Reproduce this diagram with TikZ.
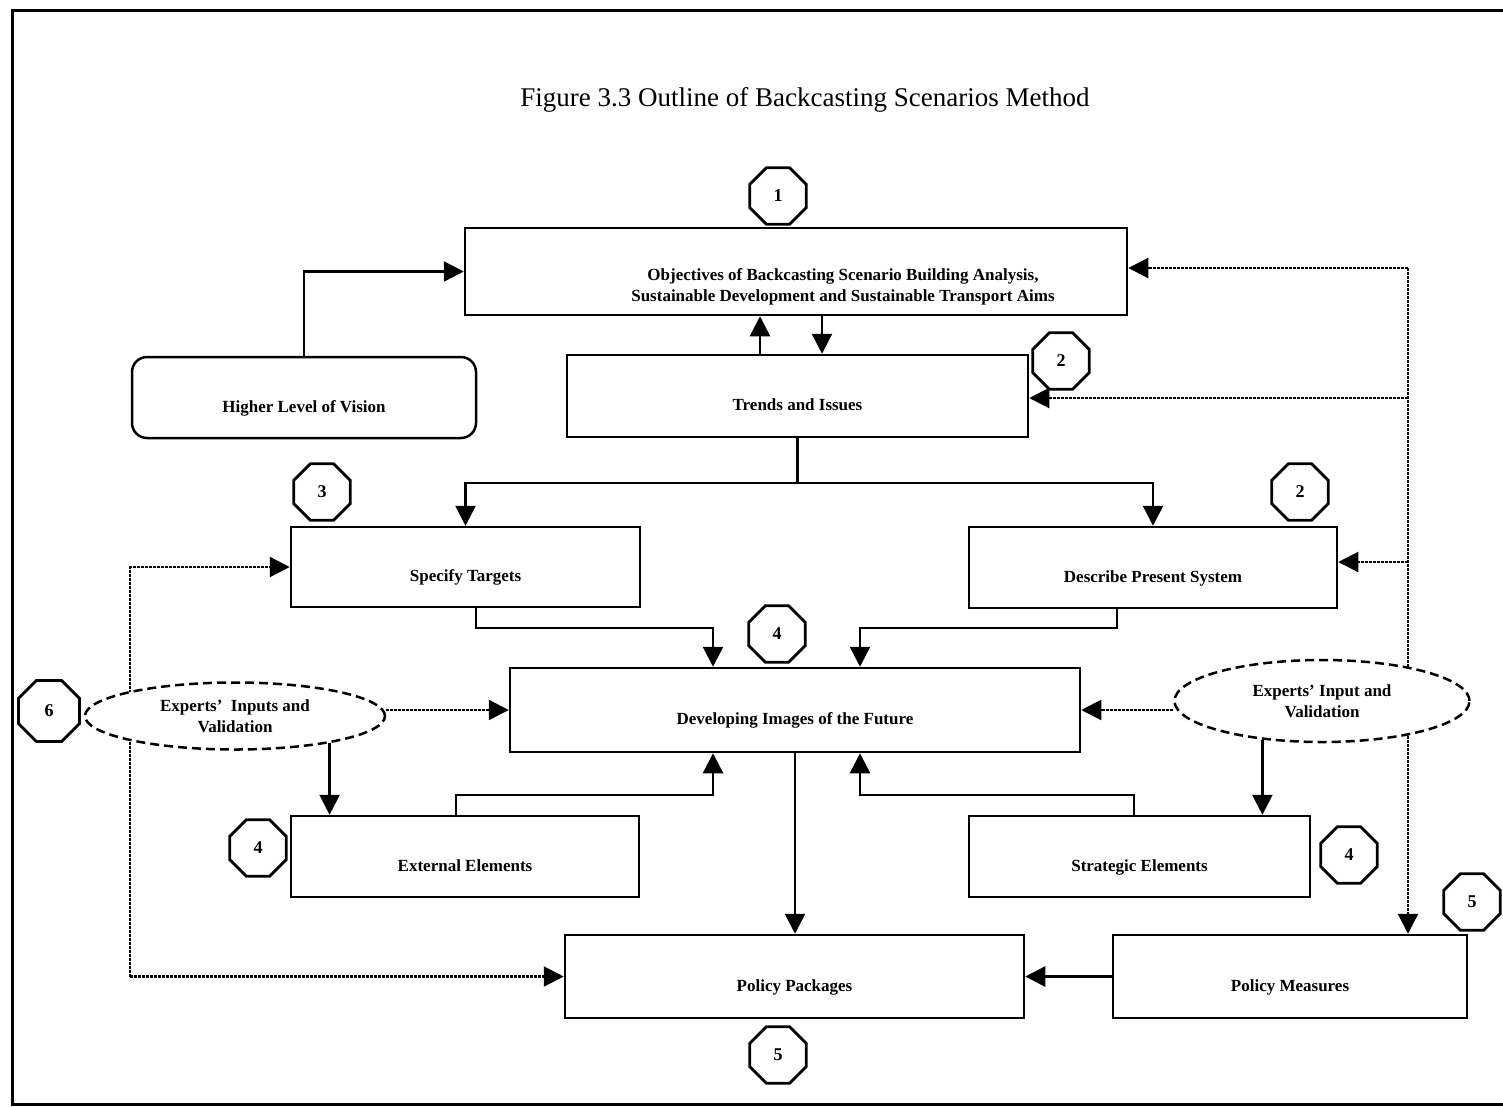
\documentclass[tikz,border=0pt]{standalone}
\usepackage{fontspec}
\setmainfont{Liberation Serif}
\usetikzlibrary{arrows.meta,shapes.geometric}
\begin{document}
\begin{tikzpicture}[x=1pt,y=-1pt,
  lbl/.style={font=\bfseries\fontsize{17}{21}\selectfont},
  box/.style={draw, line width=2.5pt, inner sep=0pt, lbl, text height=33pt, text depth=4pt},
  plainbox/.style={draw, line width=2.5pt, inner sep=0pt},
  oct/.style={draw, regular polygon, regular polygon sides=8, minimum size=61pt, inner sep=0pt, line width=2.8pt, font=\bfseries\fontsize{18}{18}\selectfont},
  ell/.style={draw, ellipse, dash pattern=on 9pt off 5pt, line width=2.5pt, fill=white, inner sep=0pt, align=center, lbl},
  arr/.style={line width=2.5pt, -{Triangle[length=20pt,width=20pt]}},
  dotl/.style={line width=2.2pt, dash pattern=on 3pt off 1pt},
  dotarr/.style={dotl, -{Triangle[length=20pt,width=20pt]}}
]
\useasboundingbox (0,0) rectangle (1503,1106);
% frame
\draw[line width=3pt] (1503,10) -- (12,10) -- (12,1104) -- (1503,1104);
% title
\node[font=\fontsize{27}{30}\selectfont] (title) at (805,100) {Figure 3.3 Outline of Backcasting Scenarios Method};

% boxes
\node[plainbox, minimum width=662pt, minimum height=87pt] (obj) at (796,271.5) {};
\node[lbl, align=center] (objtext) at (843,287) {Objectives of Backcasting Scenario Building Analysis,\\Sustainable Development and Sustainable Transport Aims};
\node[box, rounded corners=15pt, minimum width=344pt, minimum height=81pt] (hlv) at (304,397.5) {Higher Level of Vision};
\node[box, minimum width=461pt, minimum height=82pt] (trends) at (797.5,396) {Trends and Issues};
\node[box, minimum width=349pt, minimum height=80pt] (spec) at (465.5,567) {Specify Targets};
\node[box, minimum width=368pt, minimum height=81pt] (desc) at (1153,567.5) {Describe Present System};
\node[box, minimum width=570pt, minimum height=84pt] (dev) at (795,710) {Developing Images of the Future};
\node[box, minimum width=348pt, minimum height=81pt] (ext) at (465,856.5) {External Elements};
\node[box, minimum width=341pt, minimum height=81pt] (strat) at (1139.5,856.5) {Strategic Elements};
\node[box, minimum width=459pt, minimum height=83pt] (pp) at (794.5,976.5) {Policy Packages};
\node[box, minimum width=354pt, minimum height=83pt] (pm) at (1290,976.5) {Policy Measures};

% octagons
\node[oct] (o1) at (778,196) {1};
\node[oct] (o2a) at (1061,361) {2};
\node[oct] (o2b) at (1300,492) {2};
\node[oct] (o3) at (322,492) {3};
\node[oct] (o4a) at (777,634) {4};
\node[oct, minimum size=66pt] (o6) at (49,711) {6};
\node[oct] (o4b) at (258,848) {4};
\node[oct] (o4c) at (1349,855) {4};
\node[oct] (o5a) at (1472,902) {5};
\node[oct] (o5b) at (778,1055) {5};

% helper coordinates
\coordinate (cA) at (760,0);
\coordinate (cB) at (822,0);
\coordinate (cC) at (476,0);
\coordinate (cD) at (713,0);
\coordinate (cE) at (860,0);
\coordinate (cF) at (1117,0);
\coordinate (cG) at (456,0);
\coordinate (cH) at (1134,0);
\coordinate (cR) at (1408,0);
\coordinate (cL) at (130,0);
\coordinate (r1) at (0,483);
\coordinate (r2) at (0,628);
\coordinate (r3) at (0,795);
\coordinate (rObj) at (0,268);
\coordinate (rTr) at (0,398);
\coordinate (rDs) at (0,562);

% dotted trunks (behind the ellipses)
\draw[dotarr] (cR |- rObj) -- (cR |- pm.north);
\draw[dotarr] (cR |- rObj) -- (rObj -| obj.east);
\draw[dotarr] (cR |- rTr) -- (rTr -| trends.east);
\draw[dotarr] (cR |- rDs) -- (rDs -| desc.east);
\draw[dotarr] (pp.west -| cL) |- (spec.west);
\draw[dotarr] (pp.west -| cL) -- (pp.west);

% ellipses
\node[ell, minimum width=300pt, minimum height=67pt] (lell) at (235,716) {Experts'\ \ Inputs and\\Validation};
\node[ell, minimum width=295pt, minimum height=82pt] (rell) at (1322,701) {Experts' Input and\\Validation};

% solid connectors
\draw[arr] (hlv.north) |- (obj.west);
\draw[arr] (cA |- trends.north) -- (cA |- obj.south);
\draw[arr] (cB |- obj.south) -- (cB |- trends.north);
\draw[arr] (trends.south) -- (trends.south |- r1) -| (spec.north);
\draw[arr] (trends.south |- r1) -| (desc.north);
\draw[arr] (cC |- spec.south) |- (cD |- r2) -- (cD |- dev.north);
\draw[arr] (cF |- desc.south) |- (cE |- r2) -- (cE |- dev.north);
\draw[arr] (cG |- ext.north) |- (cD |- r3) -- (cD |- dev.south);
\draw[arr] (cH |- strat.north) |- (cE |- r3) -- (cE |- dev.south);
\draw[arr] (dev.south) -- (dev.south |- pp.north);
\draw[arr] (pm.west) -- (pp.east);
\draw[arr] (lell.344.7) -- (lell.344.7 |- ext.north);
\draw[arr] (rell.213.5) -- (rell.213.5 |- strat.north);

% dotted connectors from ellipses
\draw[dotarr] (dev.west -| lell.east) -- (dev.west);
\draw[dotarr] (dev.east -| rell.west) -- (dev.east);
\end{tikzpicture}
\end{document}
